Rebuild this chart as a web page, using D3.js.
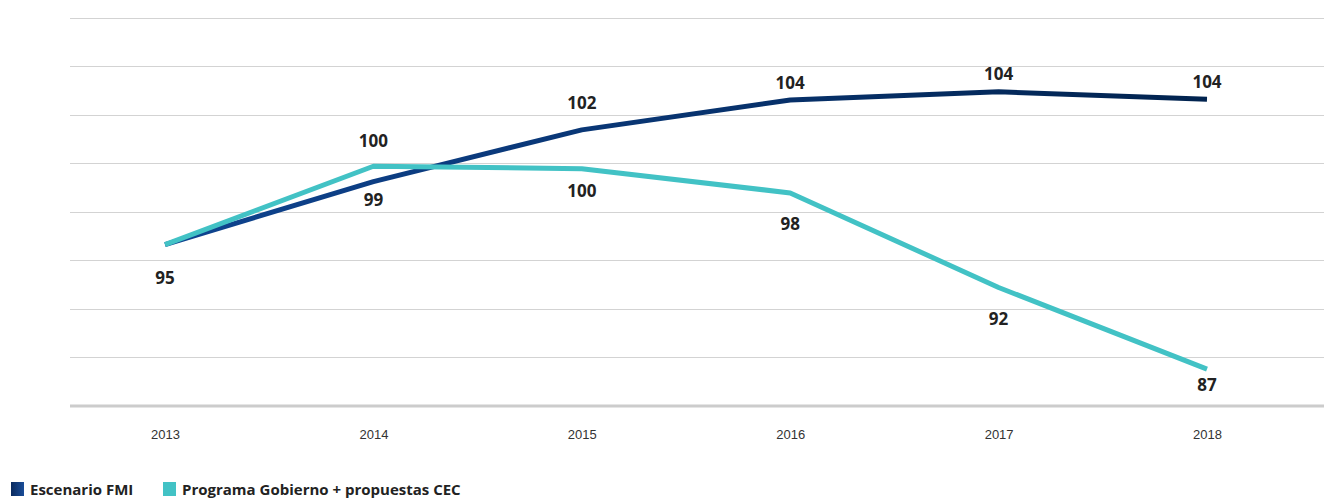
<!DOCTYPE html>
<html>
<head>
<meta charset="utf-8">
<script src="https://cdn.jsdelivr.net/npm/d3@7"></script>
<style>
  body { margin: 0; background: #fff; }
  svg { display: block; font-family: "Open Sans", "Noto Sans", sans-serif; }
</style>
</head>
<body>
<div id="chart"></div>
<script>
const years = ["2013", "2014", "2015", "2016", "2017", "2018"];
const fmiValues = [94.95, 98.85, 102.05, 103.9, 104.4, 103.95];
const govValues = [94.95, 99.8, 99.65, 98.15, 92.3, 87.25];
const fmiLabels = ["", "99", "102", "104", "104", "104"];
const govLabels = ["95", "100", "100", "98", "92", "87"];
const yTicks = [85, 88, 91, 94, 97, 100, 103, 106, 109];
const seriesNames = ["Escenario FMI", "Programa Gobierno + propuestas CEC"];

// label placement (layout, not data): pixels from the point
const fmiLabelDy = [0, 18, -27, -17, -18, -17];
const govLabelDy = [33, -25, 22, 31, 32, 16];

const width = 1324, height = 499;
const margin = { top: 17.5, right: 0, bottom: 93.5, left: 70 };

const svg = d3.select("#chart").append("svg")
    .attr("width", width)
    .attr("height", height);

const defs = svg.append("defs");
const grad = defs.append("linearGradient")
    .attr("id", "fmiGrad")
    .attr("gradientUnits", "userSpaceOnUse")
    .attr("x1", 165).attr("x2", 1207).attr("y1", 0).attr("y2", 0);
grad.append("stop").attr("offset", "0%").attr("stop-color", "#0f4490");
grad.append("stop").attr("offset", "100%").attr("stop-color", "#01234f");

const legGrad = defs.append("linearGradient")
    .attr("id", "legGrad")
    .attr("x1", "0").attr("x2", "1").attr("y1", "0").attr("y2", "0");
legGrad.append("stop").attr("offset", "0%").attr("stop-color", "#0a2a5e");
legGrad.append("stop").attr("offset", "100%").attr("stop-color", "#1a4d98");

const x = d3.scalePoint()
    .domain(years)
    .range([165, 1207]);

const y = d3.scaleLinear()
    .domain([85, 109])
    .range([height - margin.bottom, margin.top]);

// grid
svg.append("g")
    .selectAll("line")
    .data(yTicks.slice(1))
    .join("line")
    .attr("x1", margin.left)
    .attr("x2", width - margin.right)
    .attr("y1", d => Math.round(y(d)) + 0.5)
    .attr("y2", d => Math.round(y(d)) + 0.5)
    .attr("stroke", "#d3d3d3")
    .attr("stroke-width", 1);

// baseline
svg.append("line")
    .attr("x1", margin.left)
    .attr("x2", width - margin.right)
    .attr("y1", y(85) + 0.5)
    .attr("y2", y(85) + 0.5)
    .attr("stroke", "#cccccc")
    .attr("stroke-width", 3);

// x axis
const xAxis = d3.axisBottom(x).tickSize(0).tickPadding(0);
const gx = svg.append("g")
    .attr("transform", `translate(0,${y(85)})`)
    .call(xAxis);
gx.select(".domain").remove();
gx.selectAll("text")
    .attr("dy", "0")
    .attr("y", 33)
    .attr("fill", "#333")
    .style("font-size", "13px");

const line = d3.line()
    .x((d, i) => x(years[i]))
    .y(d => y(d));

svg.append("path")
    .datum(fmiValues)
    .attr("fill", "none")
    .attr("stroke", "url(#fmiGrad)")
    .attr("stroke-width", 5)
    .attr("stroke-linejoin", "round")
    .attr("d", line);

svg.append("path")
    .datum(govValues)
    .attr("fill", "none")
    .attr("stroke", "#42c2c5")
    .attr("stroke-width", 5)
    .attr("stroke-linejoin", "round")
    .attr("d", line);

// data labels
const labels = svg.append("g")
    .attr("font-weight", "bold")
    .attr("font-size", "17px")
    .attr("fill", "#222")
    .attr("text-anchor", "middle");

labels.selectAll(".fmi")
    .data(fmiValues)
    .join("text")
    .attr("class", "fmi")
    .attr("x", (d, i) => x(years[i]))
    .attr("y", (d, i) => y(d) + fmiLabelDy[i])
    .attr("dy", "0.35em")
    .text((d, i) => fmiLabels[i]);

labels.selectAll(".gov")
    .data(govValues)
    .join("text")
    .attr("class", "gov")
    .attr("x", (d, i) => x(years[i]))
    .attr("y", (d, i) => y(d) + govLabelDy[i])
    .attr("dy", "0.35em")
    .text((d, i) => govLabels[i]);

// legend
const legend = svg.append("g")
    .attr("transform", "translate(11,482)");
const swatches = ["url(#legGrad)", "#42c2c5"];
const legX = [0, 152];
seriesNames.forEach((name, i) => {
    const g = legend.append("g").attr("transform", `translate(${legX[i]},0)`);
    g.append("rect")
        .attr("width", 13)
        .attr("height", 14)
        .attr("fill", swatches[i]);
    g.append("text")
        .attr("x", 19)
        .attr("y", 12.5)
        .attr("font-size", "15px")
        .attr("font-weight", "bold")
        .attr("fill", "#222")
        .text(name);
});
</script>
</body>
</html>
